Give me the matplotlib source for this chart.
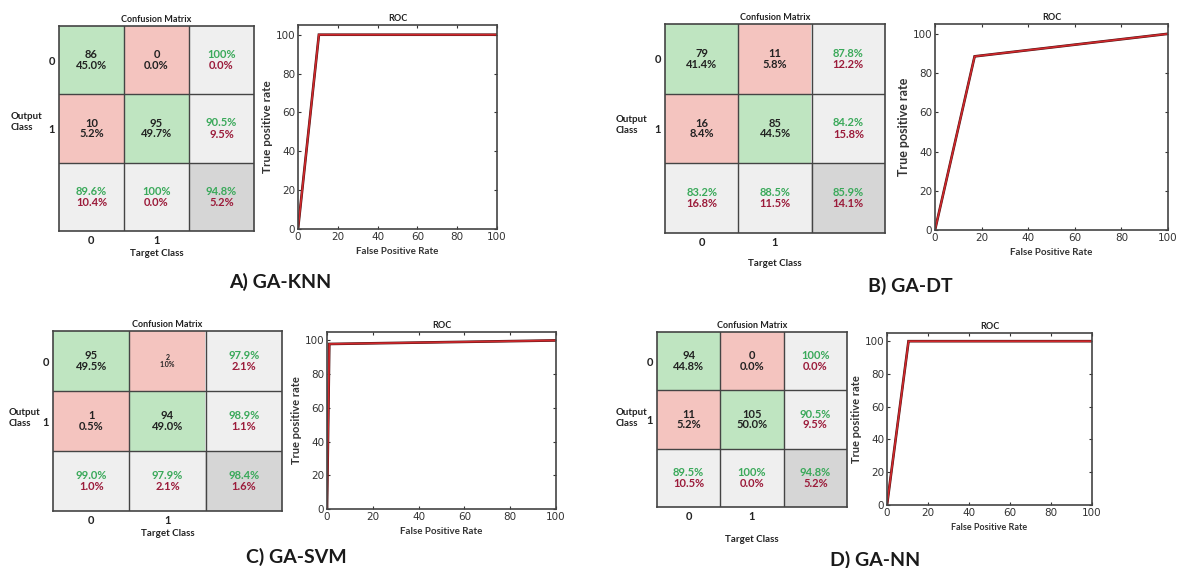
import matplotlib
matplotlib.use("Agg")
import matplotlib.pyplot as plt
import numpy as np

W, H = 1178, 568

# ---------------- data ----------------
models = ["A) GA-KNN", "B) GA-DT", "C) GA-SVM", "D) GA-NN"]

counts_knn = [[86, 0], [10, 95]]
pct_knn = [[45.0, 0.0], [5.2, 49.7]]
row_acc_knn = [100, 90.5]
col_acc_knn = [89.6, 100]
overall_knn = 94.8
fpr_knn = [0, 10.5, 100]
tpr_knn = [0, 100, 100]

counts_dt = [[79, 11], [16, 85]]
pct_dt = [[41.4, 5.8], [8.4, 44.5]]
row_acc_dt = [87.8, 84.2]
col_acc_dt = [83.2, 88.5]
overall_dt = 85.9
fpr_dt = [0, 17, 100]
tpr_dt = [0, 88.5, 100]

counts_svm = [[95, 2], [1, 94]]
pct_svm = [[49.5, 1.0], [0.5, 49.0]]
row_acc_svm = [97.9, 98.9]
col_acc_svm = [99.0, 97.9]
overall_svm = 98.4
fpr_svm = [0, 1, 100]
tpr_svm = [0, 97.9, 100]

counts_nn = [[94, 0], [11, 105]]
pct_nn = [[44.8, 0.0], [5.2, 50.0]]
row_acc_nn = [100, 90.5]
col_acc_nn = [89.5, 100]
overall_nn = 94.8
fpr_nn = [0, 10.5, 100]
tpr_nn = [0, 100, 100]

class_labels = ["0", "1"]
roc_ticks = [0, 20, 40, 60, 80, 100]

# ---------------- style ----------------
FONT = ["Lato", "DejaVu Sans"]
TICKFONT = ["Liberation Sans Narrow", "DejaVu Sans"]
GREEN_CELL = (0.75, 0.90, 0.76)
RED_CELL = (0.96, 0.77, 0.75)
GRAY_CELL = (0.94, 0.94, 0.94)
DGRAY_CELL = (0.84, 0.84, 0.84)
GREEN_TXT = "#3aa95a"
RED_TXT = "#9b1b3a"
DARK = "#222222"

fig = plt.figure(figsize=(W / 100, H / 100), dpi=100)
fig.patch.set_facecolor("white")


def add_ax(left, top, right, bottom):
    return fig.add_axes([left / W, 1 - bottom / H, (right - left) / W, (bottom - top) / H])


def fmt(v):
    return "100%" if v == 100 else f"{v:.1f}%"


def draw_cm(box, counts, pct, row_acc, col_acc, overall, out_xy, xlabelpad, small_cells=()):
    ax = add_ax(*box)
    img = np.ones((3, 3, 3))
    for i in range(3):
        for j in range(3):
            if i < 2 and j < 2:
                img[i, j] = GREEN_CELL if i == j else RED_CELL
            elif i == 2 and j == 2:
                img[i, j] = DGRAY_CELL
            else:
                img[i, j] = GRAY_CELL
    ax.imshow(img, extent=(0, 3, 3, 0), aspect="auto", interpolation="nearest")
    ax.set_xlim(0, 3)
    ax.set_ylim(3, 0)
    for k in (1, 2):
        ax.axhline(k, color="#444444", lw=1.0)
        ax.axvline(k, color="#444444", lw=1.0)
    for s in ax.spines.values():
        s.set_linewidth(1.2)
        s.set_color("#444444")
    for i in range(2):
        for j in range(2):
            fs = 5 if (i, j) in small_cells else 8
            ax.text(j + 0.5, i + 0.5, f"{counts[i][j]}\n{pct[i][j]:.1f}%", ha="center", va="center",
                    fontsize=fs, fontweight="bold", color=DARK, family=FONT, linespacing=0.95)
    accs = [(2, i, row_acc[i]) for i in range(2)] + [(i, 2, col_acc[i]) for i in range(2)] + [(2, 2, overall)]
    for (x, y, v) in accs:
        ax.text(x + 0.5, y + 0.5, fmt(v), ha="center", va="bottom", fontsize=8, fontweight="bold",
                color=GREEN_TXT, family=FONT)
        ax.text(x + 0.5, y + 0.5, fmt(round(100 - v, 1)), ha="center", va="top", fontsize=8,
                fontweight="bold", color=RED_TXT, family=FONT)
    ax.set_xticks([0.5, 1.5])
    ax.set_xticklabels(class_labels, fontsize=8, fontweight="bold", family=FONT, color=DARK)
    ax.set_yticks([0.5, 1.5])
    ax.set_yticklabels(class_labels, fontsize=8, fontweight="bold", family=FONT, color=DARK)
    ax.tick_params(length=0, pad=3)
    ax.set_title("Confusion Matrix", fontsize=6.5, fontweight="bold", family=FONT, color=DARK, pad=3)
    ax.set_xlabel("Target Class", fontsize=7, fontweight="bold", family=FONT, color=DARK, labelpad=xlabelpad)
    fig.text(out_xy[0] / W, 1 - out_xy[1] / H, "Output\nClass", ha="left", va="center", fontsize=7,
             fontweight="bold", family=FONT, color=DARK, linespacing=1.35, multialignment="left")
    return ax


def draw_roc(box, fpr, tpr, ylab_fs, xlab_fs):
    ax = add_ax(*box)
    ax.plot(fpr, tpr, color="#4a1212", lw=1.9, solid_joinstyle="miter")
    ax.plot(fpr, tpr, color="#d0282c", lw=1.2, solid_joinstyle="miter")
    ax.set_xlim(0, 100)
    ax.set_ylim(0, 105)
    ax.set_xticks(roc_ticks)
    ax.set_yticks(roc_ticks)
    ax.set_xticklabels([str(t) for t in roc_ticks], family=TICKFONT, fontsize=7.5, color="#333333")
    ax.set_yticklabels([str(t) for t in roc_ticks], family=TICKFONT, fontsize=7.5, color="#333333")
    ax.tick_params(direction="in", top=True, right=True, length=2.5, width=0.8, pad=2, colors="#333333")
    for s in ax.spines.values():
        s.set_linewidth(1.2)
        s.set_color("#444444")
    ax.set_title("ROC", fontsize=6.5, fontweight="bold", family=FONT, color=DARK, pad=3)
    ax.set_xlabel("False Positive Rate", fontsize=xlab_fs, fontweight="bold", family=FONT, color="#333333",
                  labelpad=4)
    ax.set_ylabel("True positive rate", fontsize=ylab_fs, fontweight="bold", family=FONT, color="#333333",
                  labelpad=2)
    return ax


# A) GA-KNN
draw_cm((59, 26, 254, 231), counts_knn, pct_knn, row_acc_knn, col_acc_knn, overall_knn, (11, 122), 2)
draw_roc((298, 25, 497, 229), fpr_knn, tpr_knn, 8.5, 7)
# B) GA-DT
draw_cm((665, 24, 885, 233), counts_dt, pct_dt, row_acc_dt, col_acc_dt, overall_dt, (616, 125), 8)
draw_roc((935, 24, 1168, 230), fpr_dt, tpr_dt, 9, 7)
# C) GA-SVM
draw_cm((53, 331, 282, 511), counts_svm, pct_svm, row_acc_svm, col_acc_svm, overall_svm, (9, 418), 2,
        small_cells=((0, 1),))
draw_roc((327, 332, 556, 509), fpr_svm, tpr_svm, 8, 7)
# D) GA-NN
draw_cm((657, 332, 847, 507), counts_nn, pct_nn, row_acc_nn, col_acc_nn, overall_nn, (616, 418), 9)
draw_roc((887, 333, 1092, 505), fpr_nn, tpr_nn, 8, 6.5)

sub_pos = [(280, 282), (910, 286), (296, 557), (875, 560)]
for name, (x, y) in zip(models, sub_pos):
    fig.text(x / W, 1 - y / H, name, ha="center", va="center", fontsize=14, fontweight="bold",
             family=FONT, color="#1a1a1a")

fig.savefig("out.png", dpi=100)
